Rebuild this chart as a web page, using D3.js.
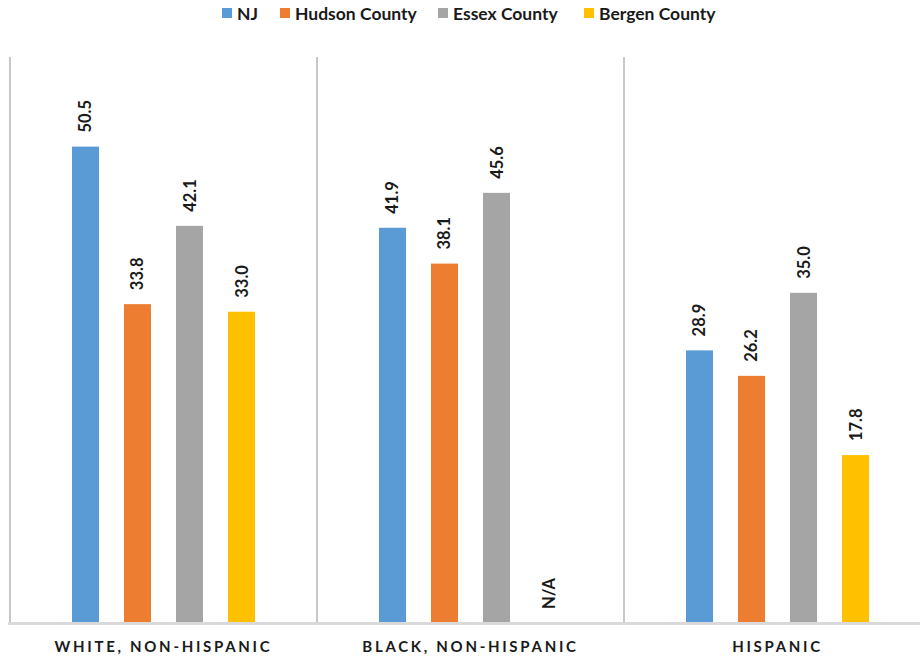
<!DOCTYPE html>
<html><head><meta charset="utf-8">
<script src="https://cdn.jsdelivr.net/npm/d3@7/dist/d3.min.js"></script>
<style>body{margin:0;background:#fff;}svg{display:block;}</style>
</head><body><svg id="c" width="920" height="657"></svg>
<script>
const categories = ["WHITE, NON-HISPANIC", "BLACK, NON-HISPANIC", "HISPANIC"];
const seriesNames = ["NJ", "Hudson County", "Essex County", "Bergen County"];
const colors = ["#5B9BD5", "#ED7D31", "#A5A5A5", "#FFC000"];
const njValues = [50.5, 41.9, 28.9];
const hudsonValues = [33.8, 38.1, 26.2];
const essexValues = [42.1, 45.6, 35.0];
const bergenValues = [33.0, null, 17.8];
const yTicks = [0, 60];

(function () {
const seriesValues = [njValues, hudsonValues, essexValues, bergenValues];
const svg = d3.select("#c");
const font = "Lato, 'Open Sans', sans-serif";
const plotLeft = 10, catW = 307, plotTop = 57, plotBottom = 623;

const x0 = d3.scaleBand().domain(categories).range([plotLeft, plotLeft + catW * categories.length]).padding(0);
const x1 = d3.scaleBand().domain(seriesNames).range([0, x0.bandwidth()]).paddingInner(25/52).paddingOuter(1.192);
const y = d3.scaleLinear().domain([yTicks[0], yTicks[1]]).range([plotBottom, plotTop]);

// vertical separators
const seps = categories.map((c) => x0(c)).concat([x0(categories[categories.length-1]) + x0.bandwidth()]);
svg.append("g").selectAll("line").data(seps).join("line")
  .attr("x1", d => d).attr("x2", d => d).attr("y1", plotTop).attr("y2", plotBottom)
  .attr("stroke", "#c8c8c8").attr("stroke-width", 2);

// bars
const data = [];
categories.forEach((c, i) => seriesNames.forEach((s, j) => data.push({c, s, j, v: seriesValues[j][i]})));
const g = svg.append("g");
g.selectAll("rect").data(data.filter(d => d.v != null)).join("rect")
  .attr("x", d => x0(d.c) + x1(d.s)).attr("width", x1.bandwidth())
  .attr("y", d => y(d.v)).attr("height", d => y(0) - y(d.v))
  .attr("fill", d => colors[d.j]);

// labels
g.selectAll("text.lab").data(data).join("text").attr("class", "lab")
  .attr("transform", d => `translate(${x0(d.c) + x1(d.s) + x1.bandwidth()/2 + 6},${y(d.v == null ? 0 : d.v) - 14}) rotate(-90)`)
  .attr("font-family", font).attr("font-weight", "bold").attr("font-size", 16.5)
  .attr("fill", "#1a1a1a")
  .text(d => d.v == null ? "N/A" : d3.format(".1f")(d.v));

// baseline
svg.append("line").attr("x1", plotLeft - 2).attr("x2", 920).attr("y1", plotBottom + 0.5).attr("y2", plotBottom + 0.5)
  .attr("stroke", "#d9d9d9").attr("stroke-width", 3);

// category axis labels
svg.append("g").selectAll("text").data(categories).join("text")
  .attr("x", d => x0(d) + x0.bandwidth()/2).attr("y", 652)
  .attr("text-anchor", "middle").attr("font-family", font).attr("font-weight", "bold")
  .attr("font-size", 15).attr("letter-spacing", 2.7).attr("fill", "#1a1a1a")
  .text(d => d);

// legend
const legX = [222, 280, 438, 584];
const leg = svg.append("g").selectAll("g").data(seriesNames).join("g")
  .attr("transform", (d, i) => `translate(${legX[i]},8)`);
leg.append("rect").attr("width", 10).attr("height", 10).attr("fill", (d, i) => colors[i]);
leg.append("text").attr("x", 15).attr("y", 12).attr("font-family", font).attr("font-weight", "bold")
  .attr("font-size", 17.5).attr("fill", "#1a1a1a").text(d => d);
})();
</script></body></html>
